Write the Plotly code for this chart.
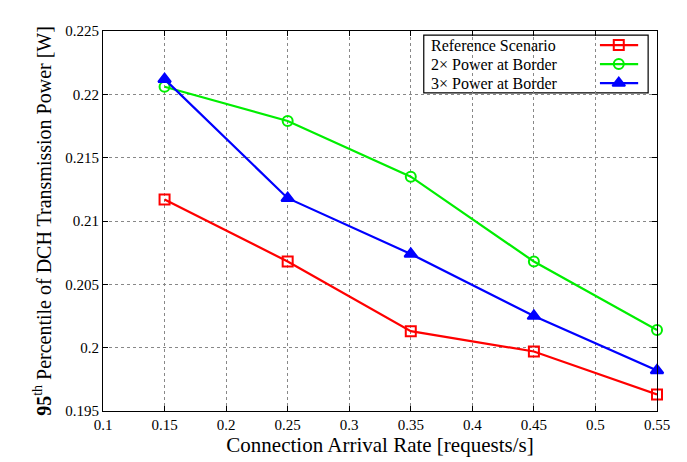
import plotly.graph_objects as go

rates = [0.15, 0.25, 0.35, 0.45, 0.55]
ref_scenario = [0.2117, 0.2068, 0.2013, 0.1997, 0.1963]
power_2x = [0.2206, 0.2179, 0.2135, 0.2068, 0.2014]
power_3x = [0.2212, 0.2118, 0.2074, 0.2025, 0.1982]

names = ["Reference Scenario", "2\u00d7 Power at Border", "3\u00d7 Power at Border"]
colors = ["#ff0000", "#00ee00", "#0000ff"]
symbols = ["square-open", "circle-open", "triangle-up"]
series = [ref_scenario, power_2x, power_3x]

x_ticks = [0.1, 0.15, 0.2, 0.25, 0.3, 0.35, 0.4, 0.45, 0.5, 0.55]
y_ticks = [0.195, 0.2, 0.205, 0.21, 0.215, 0.22, 0.225]

FONT = "Liberation Serif"

fig = go.Figure()
for name, col, sym, vals in zip(names, colors, symbols, series):
    fig.add_trace(go.Scatter(
        x=rates, y=vals, mode="lines+markers", name=name,
        line=dict(color=col, width=2.2),
        marker=dict(symbol=sym, size=10 if sym != "triangle-up" else 11,
                    color=col, line=dict(color=col, width=2)),
        showlegend=False, cliponaxis=False,
    ))

# custom legend (text left, sample right) drawn on an overlay axis
leg_rows = [0.963, 0.913, 0.863]
for name, col, sym, yy in zip(names, colors, symbols, leg_rows):
    fig.add_trace(go.Scatter(
        x=[0.897, 0.966], y=[yy, yy], mode="lines", xaxis="x2", yaxis="y2",
        line=dict(color=col, width=2.2), showlegend=False, hoverinfo="skip"))
    fig.add_trace(go.Scatter(
        x=[0.931], y=[yy], mode="markers", xaxis="x2", yaxis="y2",
        marker=dict(symbol=sym, size=10 if sym != "triangle-up" else 11,
                    color=col, line=dict(color=col, width=2)),
        showlegend=False, hoverinfo="skip"))
    fig.add_annotation(x=0.588, y=yy, xref="paper", yref="paper", text=name,
                       showarrow=False, xanchor="left", yanchor="middle",
                       font=dict(family=FONT, size=16, color="black"))

fig.add_shape(type="rect", xref="paper", yref="paper", x0=0.579, x1=0.984,
              y0=0.837, y1=0.989, line=dict(color="black", width=1.2),
              fillcolor="white", layer="between")

axis_common = dict(showline=True, linecolor="black", linewidth=1.2, mirror="ticks",
                   ticks="inside", ticklen=5, tickcolor="black",
                   showgrid=True, gridcolor="#888888", griddash="dot", gridwidth=1,
                   zeroline=False, tickfont=dict(family=FONT, size=15, color="black"))

# page body has an 8px margin: size the figure so the plot area lands where the reference has it
fig.update_layout(
    width=679, height=454,
    margin=dict(l=95, r=30, t=23, b=51),
    paper_bgcolor="white", plot_bgcolor="white",
    xaxis=dict(range=[0.1, 0.55], tickvals=x_ticks,
               ticktext=[f"{v:g}" for v in x_ticks],
               title=dict(text="Connection Arrival Rate [requests/s]", standoff=2,
                          font=dict(family=FONT, size=21, color="black")),
               **axis_common),
    yaxis=dict(range=[0.195, 0.225], tickvals=y_ticks,
               ticktext=[f"{v:g}" for v in y_ticks],
               title=dict(text="<b>95</b><sup>th</sup> Percentile of DCH Transmission Power [W]",
                          standoff=8,
                          font=dict(family=FONT, size=20, color="black")),
               **axis_common),
    xaxis2=dict(range=[0, 1], overlaying="x", visible=False, fixedrange=True),
    yaxis2=dict(range=[0, 1], overlaying="y", visible=False, fixedrange=True),
    showlegend=False,
)

fig.write_html("out.html")
